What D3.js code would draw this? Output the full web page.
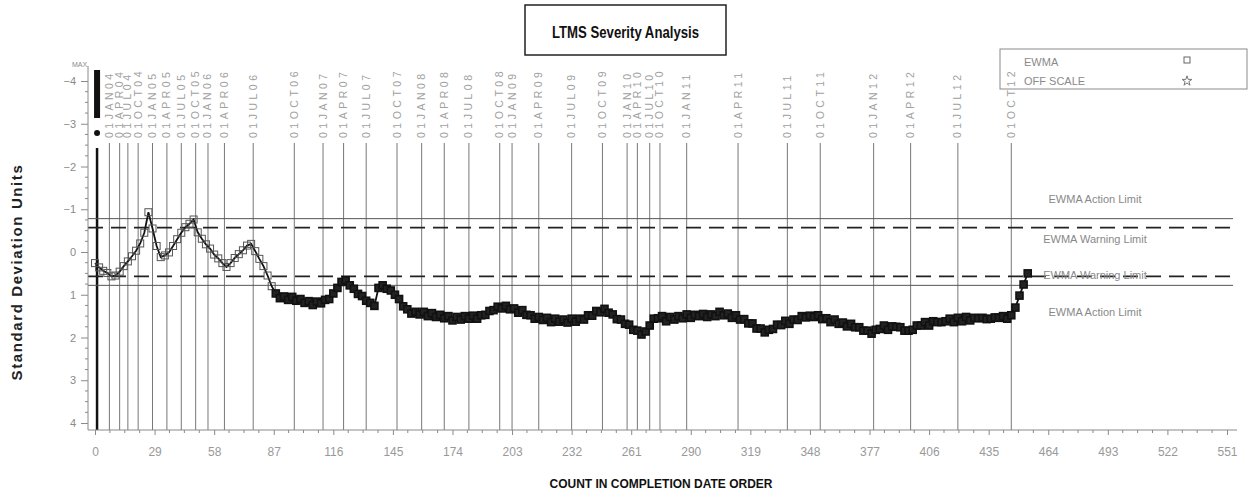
<!DOCTYPE html>
<html><head><meta charset="utf-8">
<script src="https://cdn.jsdelivr.net/npm/d3@7"></script>
<style>
body{margin:0;background:#fff;}
svg{display:block;font-family:"Liberation Sans",Arial,sans-serif;}
</style></head>
<body>
<svg id="chart" width="1250" height="497"></svg>
<script>
// ---- data ----
const titleText = "LTMS Severity Analysis";
const xTitle = "COUNT IN COMPLETION DATE ORDER";
const yTitle = "Standard Deviation Units";
const xTicks = [0,29,58,87,116,145,174,203,232,261,290,319,348,377,406,435,464,493,522,551];
const yTicks = [-4,-3,-2,-1,0,1,2,3,4];
const dateLabels = ["01OCT03","01JAN04","01APR04","01JUL04","01OCT04","01JAN05","01APR05","01JUL05","01OCT05","01JAN06","01APR06","01JUL06","01OCT06","01JAN07","01APR07","01JUL07","01OCT07","01JAN08","01APR08","01JUL08","01OCT08","01JAN09","01APR09","01JUL09","01OCT09","01JAN10","01APR10","01JUL10","01OCT10","01JAN11","01APR11","01JUL11","01OCT11","01JAN12","01APR12","01JUL12","01OCT12"];
const dateCounts = [1,7,12,16,21,28,35,42,49,55,63,77,97,111,121,132,147,159,170,182,197,203,216,232,247,259,264,270,275,288,313,337,353,379,397,420,446];
const limitNames = ["EWMA Action Limit","EWMA Warning Limit","EWMA Warning Limit","EWMA Action Limit"];
const limitValues = [-0.78,-0.57,0.57,0.78];
const limitDashed = [false,true,true,false];
// EWMA values, one every 2 tests starting at count 0
const ewmaStart = 0, ewmaStep = 2;
const ewmaValues = [0.26,0.36,0.44,0.49,0.57,0.55,0.46,0.33,0.22,0.10,-0.03,-0.20,-0.45,-0.93,-0.55,-0.14,0.12,0.08,0.01,-0.14,
-0.30,-0.45,-0.58,-0.66,-0.76,-0.46,-0.31,-0.18,-0.08,0.06,0.15,0.26,0.35,0.26,0.14,0.05,-0.04,-0.15,-0.19,-0.02,
0.16,0.33,0.55,0.80,
0.97,1.08,1.04,1.12,1.05,1.14,1.10,1.19,1.15,1.24,1.16,1.20,1.12,1.10,0.97,0.84,0.70,0.66,0.78,0.86,
0.98,1.03,1.14,1.19,1.26,0.84,0.78,0.86,0.90,1.00,1.10,1.27,1.34,1.44,1.40,1.46,1.40,1.50,1.43,1.52,
1.47,1.55,1.50,1.60,1.52,1.58,1.50,1.56,1.49,1.56,1.48,1.47,1.38,1.36,1.28,1.32,1.26,1.34,1.32,1.42,
1.36,1.47,1.48,1.56,1.52,1.59,1.54,1.64,1.56,1.63,1.58,1.65,1.56,1.63,1.56,1.58,1.48,1.49,1.38,1.41,
1.33,1.42,1.46,1.57,1.58,1.68,1.70,1.82,1.84,1.93,1.86,1.72,1.56,1.55,1.50,1.62,1.52,1.58,1.50,1.55,
1.46,1.54,1.47,1.50,1.45,1.52,1.46,1.50,1.40,1.48,1.44,1.54,1.48,1.58,1.57,1.67,1.67,1.79,1.79,1.88,
1.82,1.80,1.70,1.71,1.61,1.68,1.58,1.59,1.50,1.53,1.49,1.52,1.48,1.57,1.55,1.64,1.58,1.68,1.65,1.74,
1.68,1.76,1.76,1.84,1.84,1.91,1.82,1.80,1.72,1.82,1.74,1.75,1.76,1.84,1.84,1.82,1.72,1.72,1.64,1.72,
1.62,1.64,1.64,1.62,1.56,1.64,1.54,1.62,1.52,1.60,1.54,1.55,1.54,1.57,1.56,1.53,1.54,1.50,1.56,1.48,
1.30,1.02,0.76,0.50];
const legendNames = ["EWMA","OFF SCALE"];

// ---- drawing ----
const svg = d3.select("#chart");
const x = d3.scaleLinear().domain([0,551]).range([95,1227]);
const y = d3.scaleLinear().domain([-4,4]).range([81,423]);
const axisLeftX = 88, axisBottomY = 430, plotRight = 1237, vTop = 143;
const grey = "#8a8a8a";

// title box
svg.append("rect").attr("x",525).attr("y",5).attr("width",201).attr("height",50)
  .attr("fill","none").attr("stroke","#222").attr("stroke-width",1.5);
svg.append("text").attr("x",625.5).attr("y",38).attr("text-anchor","middle")
  .attr("font-size",16).attr("font-weight","bold").attr("textLength",147).attr("lengthAdjust","spacingAndGlyphs")
  .attr("fill","#111").text(titleText);

// legend box
const lg = svg.append("g");
lg.append("rect").attr("x",1000).attr("y",49).attr("width",247).attr("height",40)
  .attr("fill","none").attr("stroke",grey).attr("stroke-width",1);
legendNames.forEach((n,i)=>{
  lg.append("text").attr("x",1024).attr("y",66+i*19).attr("font-size",11).attr("fill",grey).text(n);
});
lg.append("rect").attr("x",1184).attr("y",57).attr("width",6).attr("height",6).attr("fill","none").attr("stroke","#666");
lg.append("path").attr("d",d3.symbol().type(d3.symbolStar).size(30)()).attr("transform","translate(1187,81)")
  .attr("fill","none").attr("stroke","#777");

// vertical date lines
const vg = svg.append("g");
dateCounts.forEach((c,i)=>{
  const px = x(c);
  vg.append("line").attr("x1",px).attr("x2",px).attr("y1",vTop+(i===0?5:0)).attr("y2",axisBottomY)
    .attr("stroke",i===0?"#111":"#777").attr("stroke-width",i===0?2.5:1);
  if(i===0){
    vg.append("rect").attr("x",px-3).attr("y",70).attr("width",6).attr("height",48).attr("fill","#111");
    vg.append("circle").attr("cx",px).attr("cy",133).attr("r",3).attr("fill","#111");
  } else {
    vg.append("text").attr("transform",`translate(${px+3.5},138) rotate(-90)`)
      .attr("font-size",10.5).attr("letter-spacing",3.5).attr("fill","#a0a0a0").text(dateLabels[i]);
  }
});

// limit lines
limitValues.forEach((v,i)=>{
  svg.append("line").attr("x1",axisLeftX).attr("x2",1233).attr("y1",y(v)).attr("y2",y(v))
    .attr("stroke",limitDashed[i]?"#222":"#555").attr("stroke-width",limitDashed[i]?1.6:1)
    .attr("stroke-dasharray",limitDashed[i]?"15,8":null);
});
const labelY = [203,243,279,316];
limitNames.forEach((n,i)=>{
  svg.append("text").attr("x",1095).attr("y",labelY[i]).attr("text-anchor","middle")
    .attr("font-size",11).attr("fill","#888").text(n);
});

// axes
const yAxis = d3.axisLeft(y).tickValues(yTicks).tickSize(7).tickPadding(5).tickFormat(d3.format("d"));
const ya = svg.append("g").attr("transform",`translate(${axisLeftX},0)`).call(yAxis);
ya.select(".domain").remove();
ya.selectAll(".tick line").attr("stroke",grey);
ya.selectAll(".tick text").attr("fill",grey).attr("font-size",11).attr("font-family","Liberation Sans, Arial, sans-serif");
const yMinor = d3.range(-4,4.01,0.25).filter(v=>Math.abs(v-Math.round(v))>0.01);
ya.selectAll(".minor").data(yMinor).enter().append("line").attr("x1",-3).attr("x2",0)
  .attr("y1",d=>y(d)).attr("y2",d=>y(d)).attr("stroke",grey);
svg.append("line").attr("x1",axisLeftX).attr("x2",axisLeftX).attr("y1",66).attr("y2",axisBottomY).attr("stroke",grey);

const xAxis = d3.axisBottom(x).tickValues(xTicks).tickSize(5).tickPadding(12).tickFormat(d3.format("d"));
const xa = svg.append("g").attr("transform",`translate(0,${axisBottomY})`).call(xAxis);
xa.select(".domain").remove();
xa.selectAll(".tick line").attr("stroke",grey);
xa.selectAll(".tick text").attr("fill","#999").attr("font-size",12).attr("font-family","Liberation Sans, Arial, sans-serif");
const xMinor = [];
for(let i=0;i<xTicks.length-1;i++){ for(let k=1;k<4;k++) xMinor.push(xTicks[i]+k*(xTicks[i+1]-xTicks[i])/4); }
xa.selectAll(".minor").data(xMinor).enter().append("line").attr("x1",d=>x(d)).attr("x2",d=>x(d))
  .attr("y1",0).attr("y2",3).attr("stroke",grey);
svg.append("line").attr("x1",axisLeftX).attr("x2",plotRight).attr("y1",axisBottomY).attr("y2",axisBottomY).attr("stroke",grey);

// axis titles
svg.append("text").attr("transform","translate(22,272) rotate(-90)").attr("text-anchor","middle")
  .attr("font-size",15).attr("font-weight","bold").attr("letter-spacing",1.6).attr("fill","#222").text(yTitle);
svg.append("text").attr("x",661).attr("y",488).attr("text-anchor","middle")
  .attr("font-size",12).attr("font-weight","bold").attr("textLength",223).attr("lengthAdjust","spacingAndGlyphs")
  .attr("fill","#111").text(xTitle);
svg.append("text").attr("x",72).attr("y",67).attr("font-size",7).attr("fill",grey).text("MAX");

// EWMA series
const pts = ewmaValues.map((v,i)=>({c:ewmaStart+i*ewmaStep, v}));
svg.append("path").datum(pts).attr("fill","none").attr("stroke","#111").attr("stroke-width",1.8)
  .attr("d",d3.line().x(d=>x(d.c)).y(d=>y(d.v)));
svg.append("g").selectAll("rect").data(pts).enter().append("rect")
  .attr("x",d=>x(d.c)-3.5).attr("y",d=>y(d.v)-3.5).attr("width",7).attr("height",7)
  .attr("fill",d=>d.c<88?"none":"#222").attr("stroke",d=>d.c<88?"#555":"#111").attr("stroke-width",d=>d.c<88?1:1.6);
</script>
</body></html>
